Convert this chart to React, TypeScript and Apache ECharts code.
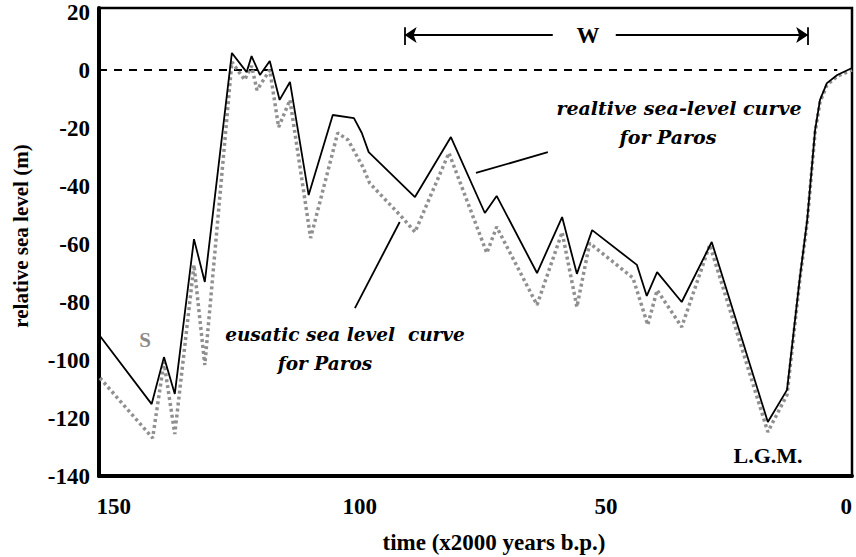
import React, { useEffect, useRef } from "react";
import * as echarts from "echarts";

// time (x2000 years b.p.) and relative sea level (m)
const relTime = [152.8, 142.3, 139.8, 137.6, 133.7, 131.5, 126.0, 123.0, 122.0, 120.3, 118.3, 116.3, 114.2, 110.4, 105.5, 101.2, 99.6, 98.2, 88.8, 81.5, 74.6, 72.2, 64.0, 58.9, 55.9, 52.8, 43.7, 41.7, 39.6, 34.6, 28.5, 17.1, 13.2, 10.6, 9.1, 7.5, 6.5, 5.1, 3.0, 0];
const relLevel = [-91.7, -115.2, -99.0, -111.7, -58.3, -73.1, 5.9, -0.7, 4.8, -1.7, 3.1, -10.3, -4.1, -43.1, -15.5, -16.6, -21.7, -28.3, -43.8, -23.1, -49.3, -43.4, -70, -50.7, -70.3, -55.2, -67.2, -77.9, -69.7, -80, -59.3, -121.4, -110.3, -71.7, -51.7, -20.7, -10.3, -4.5, -1.7, 0.7];

const eusTime = [152.8, 142.1, 139.8, 137.6, 133.7, 131.5, 126.0, 123.4, 122.0, 120.9, 118.3, 116.5, 114.2, 110.0, 104.5, 102.4, 99.4, 98.0, 91.3, 88.8, 81.9, 74.2, 72.2, 64.0, 58.9, 55.9, 53.3, 44.5, 41.5, 39.6, 34.6, 28.9, 17.1, 13.2, 10.6, 9.1, 7.5, 6.5, 5.1, 3.0, 0];
const eusLevel = [-106.2, -126.9, -100.7, -125.5, -67.2, -101.7, 2.8, -3.4, 1.4, -6.9, 0, -19.7, -10.3, -57.9, -21.7, -24.1, -33.4, -39, -51, -55.9, -28.6, -63.1, -54.1, -81, -55.9, -81.7, -59.7, -71.7, -87.9, -75.9, -88.6, -60.3, -124.8, -112, -72.4, -52.4, -21.4, -11, -5.2, -2.1, 0];

const seaLevelZero = [[153, 0], [3, 0]];

const xTicks = [0, 50, 100, 150];
const yTicks = [-140, -120, -100, -80, -60, -40, -20, 0, 20];

// annotation anchors in data space [time, level]
const pointerRel = [[76.4, -35.5], [61.8, -28.3]];
const pointerEus = [[91.9, -52.4], [101.0, -82.1]];
const wLeftArrow = [[60.8, 12.1], [90.9, 12.1]];
const wRightArrow = [[48.0, 12.1], [8.9, 12.1]];
const wLeftBar = [[90.9, 14.8], [90.9, 8.6]];
const wRightBar = [[8.9, 14.8], [8.9, 8.6]];

const FONT = "'Liberation Serif', 'Times New Roman', serif";
const NOTE_FONT = "'DejaVu Serif', serif";

export default function App() {
  const ref = useRef<HTMLDivElement>(null);
  useEffect(() => {
    document.body.style.margin = "0";
    const chart = echarts.init(ref.current!, null, { renderer: "svg" });
    const ml = (pairs: number[][][], symbols: string[][]) => ({
      silent: true,
      animation: false,
      symbolSize: 12,
      label: { show: false },
      lineStyle: { color: "#000", width: 1.8, type: "solid" },
      emphasis: { disabled: true },
      data: pairs.map((p, i) => [
        { coord: p[0], symbol: symbols[i][0] },
        { coord: p[1], symbol: symbols[i][1] },
      ]),
    });
    const txt = (
      text: string,
      x: number,
      y: number,
      size: number,
      opts: any = {}
    ) => ({
      type: "text",
      x,
      y,
      rotation: opts.rotation || 0,
      style: {
        text,
        fontFamily: opts.family || FONT,
        fontWeight: "bold",
        fontStyle: opts.italic ? "italic" : "normal",
        fontSize: size,
        fill: opts.fill || "#000",
        align: "center",
        verticalAlign: "middle",
      },
    });
    const option: any = {
      animation: false,
      backgroundColor: "#fff",
      grid: {
        left: 99,
        right: 4,
        top: 8,
        bottom: 81,
        show: true,
        borderColor: "#000",
        borderWidth: 2.5,
        containLabel: false,
        outerBoundsMode: "none",
      },
      xAxis: {
        type: "value",
        inverse: true,
        min: 0,
        max: 153,
        interval: 50,
        axisLine: { show: true, onZero: false, lineStyle: { color: "#000", width: 4 } },
        axisTick: { show: false },
        splitLine: { show: false },
        axisLabel: {
          margin: 19,
          color: "#000",
          fontFamily: FONT,
          fontWeight: "bold",
          fontSize: 23,
          alignMinLabel: "right",
          formatter: (v: number) => (xTicks.includes(v) ? String(v) : ""),
        },
      },
      yAxis: {
        type: "value",
        min: -140,
        max: 21.4,
        interval: 20,
        axisLine: { show: true, onZero: false, lineStyle: { color: "#000", width: 4 } },
        axisTick: { show: false },
        splitLine: { show: false },
        axisLabel: {
          margin: 9,
          color: "#000",
          fontFamily: FONT,
          fontWeight: "bold",
          fontSize: 23,
          formatter: (v: number) => (yTicks.includes(v) ? String(v) : ""),
        },
      },
      series: [
        {
          type: "line",
          data: seaLevelZero,
          symbol: "none",
          silent: true,
          lineStyle: { color: "#000", width: 2, type: [8, 7] },
        },
        {
          type: "line",
          data: eusTime.map((t, i) => [t, eusLevel[i]]),
          symbol: "none",
          silent: true,
          lineStyle: { color: "#909090", width: 3.5, type: [3, 3] },
        },
        {
          type: "line",
          data: relTime.map((t, i) => [t, relLevel[i]]),
          symbol: "none",
          silent: true,
          lineStyle: { color: "#000", width: 1.8 },
          markLine: ml(
            [pointerRel, pointerEus, wLeftArrow, wRightArrow, wLeftBar, wRightBar],
            [
              ["none", "none"],
              ["none", "none"],
              ["none", "arrow"],
              ["none", "arrow"],
              ["none", "none"],
              ["none", "none"],
            ]
          ),
        },
      ],
      graphic: [
        txt("relative sea level (m)", 21, 236, 21, { rotation: Math.PI / 2 }),
        txt("time (x2000 years b.p.)", 494, 542, 23),
        txt("W", 588, 35, 23),
        txt("realtive sea-level curve", 679, 108, 19, { italic: true, family: NOTE_FONT }),
        txt("for Paros", 668, 137, 19, { italic: true, family: NOTE_FONT }),
        txt("eusatic sea level  curve", 345, 334, 18.5, { italic: true, family: NOTE_FONT }),
        txt("for Paros", 325, 363, 18.5, { italic: true, family: NOTE_FONT }),
        txt("S", 145, 340, 21, { fill: "#8a8a8a" }),
        txt("L.G.M.", 768, 455, 22),
      ],
    };
    chart.setOption(option);
    return () => chart.dispose();
  }, []);
  return <div ref={ref} style={{ width: 856, height: 557 }} />;
}
